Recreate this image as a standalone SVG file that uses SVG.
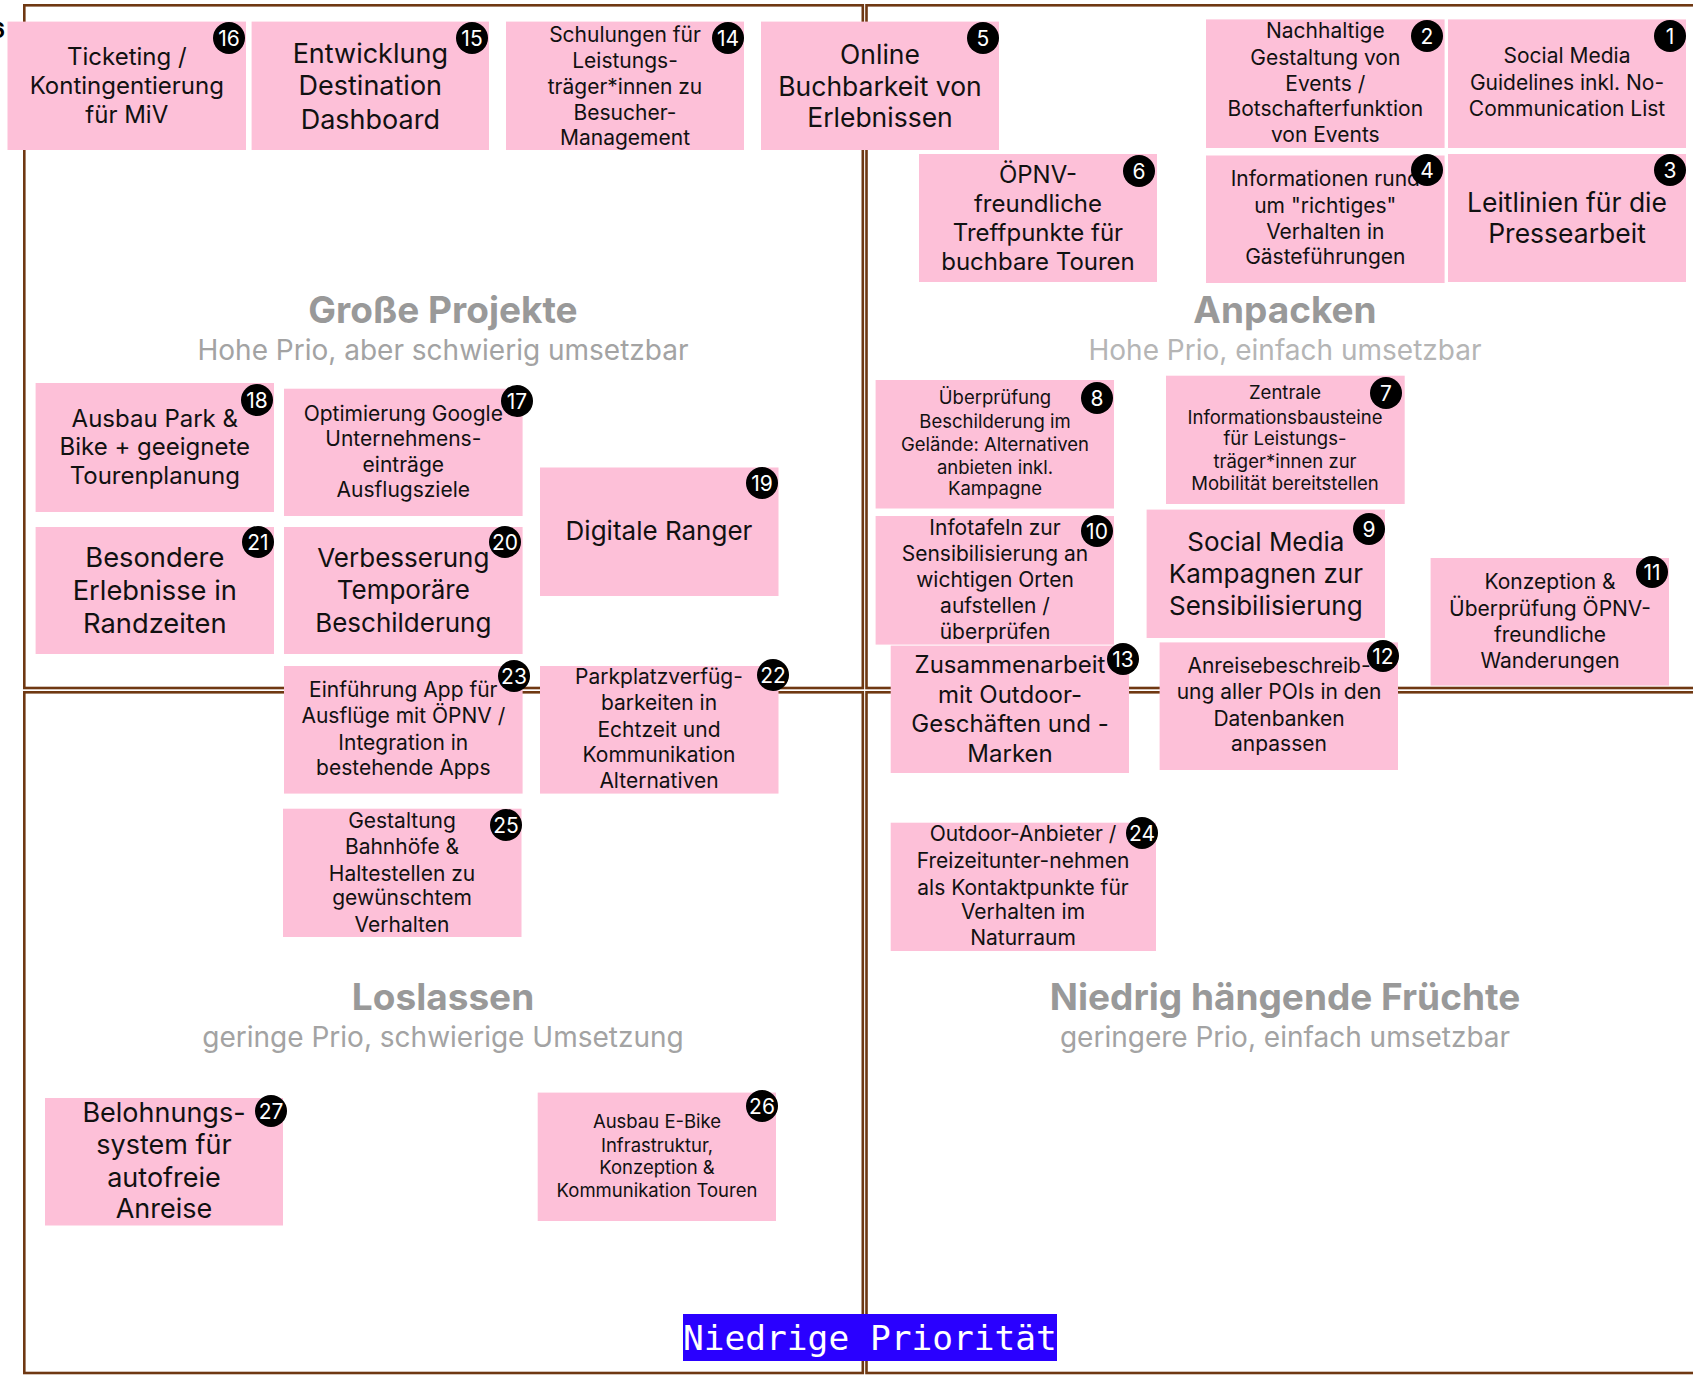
<svg xmlns="http://www.w3.org/2000/svg" width="1693" height="1375" viewBox="0 0 1693 1375">
<style>
.frame{fill:none;stroke:#6f3812;stroke-width:2.6}
.box{fill:#fdc0d8}
.t{font-family:Inter,"Noto Sans","Liberation Sans",sans-serif;fill:#111;text-anchor:middle}
.bd{fill:#000}
.bn{font-family:Inter,"Noto Sans","Liberation Sans",sans-serif;fill:#fff;font-size:21px;text-anchor:middle}
.qt{font-family:Inter,"Noto Sans","Liberation Sans",sans-serif;font-weight:700;font-size:37px;fill:#999;text-anchor:middle}
.qs{font-family:Inter,"Noto Sans","Liberation Sans",sans-serif;font-size:28px;fill:#a3a3a3;text-anchor:middle}
.s18{font-size:18.5px}.s21{font-size:21px}.s24{font-size:24px}.s26{font-size:26px}.s27{font-size:27px}.s28{font-size:27.3px}
</style>
<rect width="1693" height="1375" fill="#fff"/>
<g id="frame">
<rect class="frame" x="24.3" y="5.3" width="838.5" height="682.7"/>
<rect class="frame" x="866.5" y="5.3" width="900" height="682.7"/>
<rect class="frame" x="24.3" y="692.3" width="838.5" height="680.7"/>
<rect class="frame" x="866.5" y="692.3" width="900" height="680.7"/>
</g>
<text x="5" y="38" font-family="Inter,sans-serif" font-weight="700" font-size="22" fill="#000" text-anchor="end">6</text>
<g id="quadrant-labels">
<text class="qt" x="443" y="323">Große Projekte</text>
<text class="qs" x="443" y="360">Hohe Prio, aber schwierig umsetzbar</text>
<text class="qt" x="1285" y="323">Anpacken</text>
<text class="qs" x="1285" y="360" style="fill:#b5b5b5">Hohe Prio, einfach umsetzbar</text>
<text class="qt" x="443" y="1010">Loslassen</text>
<text class="qs" x="443" y="1047">geringe Prio, schwierige Umsetzung</text>
<text class="qt" x="1285" y="1010">Niedrig hängende Früchte</text>
<text class="qs" x="1285" y="1047">geringere Prio, einfach umsetzbar</text>
</g>
<g id="connectors"></g>
<g id="n16"><rect class="box" x="7.5" y="21.6" width="238.5" height="128.4"/><text class="t s24"><tspan x="126.8" y="64.5">Ticketing /</tspan><tspan x="126.8" y="93.5">Kontingentierung</tspan><tspan x="126.8" y="123">für MiV</tspan></text><circle class="bd" cx="229" cy="38" r="16"/><text class="bn" x="229" y="45.5">16</text></g>
<g id="n15"><rect class="box" x="251.6" y="21.6" width="237.4" height="128.4"/><text class="t s27"><tspan x="370.3" y="63">Entwicklung</tspan><tspan x="370.3" y="95">Destination</tspan><tspan x="370.3" y="129">Dashboard</tspan></text><circle class="bd" cx="472" cy="38" r="16"/><text class="bn" x="472" y="45.5">15</text></g>
<g id="n14"><rect class="box" x="506" y="21.6" width="238" height="128.4"/><text class="t s21"><tspan x="625" y="41.5">Schulungen für</tspan><tspan x="625" y="68">Leistungs-</tspan><tspan x="625" y="94">träger*innen zu</tspan><tspan x="625" y="119.5">Besucher-</tspan><tspan x="625" y="145">Management</tspan></text><circle class="bd" cx="728" cy="38" r="16"/><text class="bn" x="728" y="45.5">14</text></g>
<g id="n5"><rect class="box" x="761" y="21.6" width="238" height="128.4"/><text class="t" style="font-size:26.5px"><tspan x="880" y="63.5">Online</tspan><tspan x="880" y="95.5">Buchbarkeit von</tspan><tspan x="880" y="127">Erlebnissen</tspan></text><circle class="bd" cx="983" cy="38" r="16"/><text class="bn" x="983" y="45.5">5</text></g>
<g id="n2"><rect class="box" x="1206" y="19.4" width="238.6" height="128.6"/><text class="t s21"><tspan x="1325.3" y="38">Nachhaltige</tspan><tspan x="1325.3" y="65">Gestaltung von</tspan><tspan x="1325.3" y="91">Events /</tspan><tspan x="1325.3" y="116">Botschafterfunktion</tspan><tspan x="1325.3" y="142">von Events</tspan></text><circle class="bd" cx="1427" cy="36" r="16"/><text class="bn" x="1427" y="43.5">2</text></g>
<g id="n1"><rect class="box" x="1448" y="19.4" width="238" height="128.6"/><text class="t s21"><tspan x="1567" y="63">Social Media</tspan><tspan x="1567" y="90">Guidelines inkl. No-</tspan><tspan x="1567" y="116">Communication List</tspan></text><circle class="bd" cx="1670" cy="36" r="16"/><text class="bn" x="1670" y="43.5">1</text></g>
<g id="n6"><rect class="box" x="919" y="154" width="238" height="128"/><text class="t s24"><tspan x="1038" y="182.5">ÖPNV-</tspan><tspan x="1038" y="211.5">freundliche</tspan><tspan x="1038" y="240.5">Treffpunkte für</tspan><tspan x="1038" y="269.5">buchbare Touren</tspan></text><circle class="bd" cx="1139" cy="171" r="16"/><text class="bn" x="1139" y="178.5">6</text></g>
<g id="n4"><rect class="box" x="1206" y="155.5" width="238.6" height="127.5"/><text class="t s21"><tspan x="1325.3" y="186">Informationen rund</tspan><tspan x="1325.3" y="213">um "richtiges"</tspan><tspan x="1325.3" y="239">Verhalten in</tspan><tspan x="1325.3" y="264">Gästeführungen</tspan></text><circle class="bd" cx="1427" cy="170" r="16"/><text class="bn" x="1427" y="177.5">4</text></g>
<g id="n3"><rect class="box" x="1448" y="154" width="238" height="128"/><text class="t" style="font-size:26.5px"><tspan x="1567" y="211.5">Leitlinien für die</tspan><tspan x="1567" y="242.5">Pressearbeit</tspan></text><circle class="bd" cx="1670" cy="170" r="16"/><text class="bn" x="1670" y="177.5">3</text></g>
<g id="n18"><rect class="box" x="35.6" y="383" width="238.4" height="129"/><text class="t s24"><tspan x="154.8" y="427">Ausbau Park &amp;</tspan><tspan x="154.8" y="455">Bike + geeignete</tspan><tspan x="154.8" y="484">Tourenplanung</tspan></text><circle class="bd" cx="257" cy="400" r="16"/><text class="bn" x="257" y="407.5">18</text></g>
<g id="n17"><rect class="box" x="284" y="388.7" width="238.6" height="127.3"/><text class="t s21"><tspan x="403.3" y="420.5">Optimierung Google</tspan><tspan x="403.3" y="446">Unternehmens-</tspan><tspan x="403.3" y="472">einträge</tspan><tspan x="403.3" y="497">Ausflugsziele</tspan></text><circle class="bd" cx="517" cy="401" r="16"/><text class="bn" x="517" y="408.5">17</text></g>
<g id="n19"><rect class="box" x="540" y="467.5" width="238.5" height="128.5"/><text class="t s26"><tspan x="659" y="540">Digitale Ranger</tspan></text><circle class="bd" cx="762" cy="483" r="16"/><text class="bn" x="762" y="490.5">19</text></g>
<g id="n21"><rect class="box" x="35.6" y="527" width="238.4" height="127"/><text class="t s28"><tspan x="154.8" y="567">Besondere</tspan><tspan x="154.8" y="599.5">Erlebnisse in</tspan><tspan x="154.8" y="633">Randzeiten</tspan></text><circle class="bd" cx="258" cy="542" r="16"/><text class="bn" x="258" y="549.5">21</text></g>
<g id="n20"><rect class="box" x="284" y="527" width="238.6" height="127"/><text class="t s26"><tspan x="403.3" y="566.5">Verbesserung</tspan><tspan x="403.3" y="599">Temporäre</tspan><tspan x="403.3" y="631.5">Beschilderung</tspan></text><circle class="bd" cx="505" cy="542" r="16"/><text class="bn" x="505" y="549.5">20</text></g>
<g id="n23"><rect class="box" x="284" y="666" width="238.6" height="127.6"/><text class="t s21"><tspan x="403.3" y="697">Einführung App für</tspan><tspan x="403.3" y="723">Ausflüge mit ÖPNV /</tspan><tspan x="403.3" y="750">Integration in</tspan><tspan x="403.3" y="775">bestehende Apps</tspan></text><circle class="bd" cx="514" cy="676" r="16"/><text class="bn" x="514" y="683.5">23</text></g>
<g id="n22"><rect class="box" x="540" y="666" width="238.5" height="127.6"/><text class="t s21"><tspan x="659" y="684">Parkplatzverfüg-</tspan><tspan x="659" y="710">barkeiten in</tspan><tspan x="659" y="737">Echtzeit und</tspan><tspan x="659" y="762">Kommunikation</tspan><tspan x="659" y="788">Alternativen</tspan></text><circle class="bd" cx="773" cy="675" r="16"/><text class="bn" x="773" y="682.5">22</text></g>
<g id="n25"><rect class="box" x="283" y="808.7" width="238.5" height="128.3"/><text class="t s21"><tspan x="402" y="827.6">Gestaltung</tspan><tspan x="402" y="853.5">Bahnhöfe &amp;</tspan><tspan x="402" y="880.5">Haltestellen zu</tspan><tspan x="402" y="905">gewünschtem</tspan><tspan x="402" y="932">Verhalten</tspan></text><circle class="bd" cx="506" cy="825" r="16"/><text class="bn" x="506" y="832.5">25</text></g>
<g id="n8"><rect class="box" x="875.6" y="380" width="238.4" height="128.5"/><text class="t s18"><tspan x="995" y="404">Überprüfung</tspan><tspan x="995" y="428">Beschilderung im</tspan><tspan x="995" y="451">Gelände: Alternativen</tspan><tspan x="995" y="473.5">anbieten inkl.</tspan><tspan x="995" y="495">Kampagne</tspan></text><circle class="bd" cx="1097" cy="398" r="16"/><text class="bn" x="1097" y="405.5">8</text></g>
<g id="n7"><rect class="box" x="1166" y="375.7" width="238.7" height="128.3"/><text class="t s18"><tspan x="1285" y="399">Zentrale</tspan><tspan x="1285" y="424">Informationsbausteine</tspan><tspan x="1285" y="445">für Leistungs-</tspan><tspan x="1285" y="468">träger*innen zur</tspan><tspan x="1285" y="490">Mobilität bereitstellen</tspan></text><circle class="bd" cx="1386" cy="393" r="16"/><text class="bn" x="1386" y="400.5">7</text></g>
<g id="n10"><rect class="box" x="875.6" y="516" width="238.4" height="128.6"/><text class="t s21"><tspan x="995" y="535">Infotafeln zur</tspan><tspan x="995" y="561">Sensibilisierung an</tspan><tspan x="995" y="587">wichtigen Orten</tspan><tspan x="995" y="612.7">aufstellen /</tspan><tspan x="995" y="638.6">überprüfen</tspan></text><circle class="bd" cx="1097" cy="531" r="16"/><text class="bn" x="1097" y="538.5">10</text></g>
<g id="n9"><rect class="box" x="1146.6" y="509.6" width="238.4" height="128.4"/><text class="t s26"><tspan x="1265.8" y="550.5">Social Media</tspan><tspan x="1265.8" y="582.5">Kampagnen zur</tspan><tspan x="1265.8" y="615">Sensibilisierung</tspan></text><circle class="bd" cx="1369" cy="529" r="16"/><text class="bn" x="1369" y="536.5">9</text></g>
<g id="n11"><rect class="box" x="1430.6" y="558" width="238.4" height="127.6"/><text class="t s21"><tspan x="1550" y="589">Konzeption &amp;</tspan><tspan x="1550" y="616">Überprüfung ÖPNV-</tspan><tspan x="1550" y="642">freundliche</tspan><tspan x="1550" y="668">Wanderungen</tspan></text><circle class="bd" cx="1652" cy="572" r="16"/><text class="bn" x="1652" y="579.5">11</text></g>
<g id="n13"><rect class="box" x="890.7" y="645.6" width="238.3" height="127.4"/><text class="t s24"><tspan x="1010" y="672.5">Zusammenarbeit</tspan><tspan x="1010" y="702.5">mit Outdoor-</tspan><tspan x="1010" y="731.5">Geschäften und -</tspan><tspan x="1010" y="762">Marken</tspan></text><circle class="bd" cx="1123" cy="659" r="16"/><text class="bn" x="1123" y="666.5">13</text></g>
<g id="n12"><rect class="box" x="1159.6" y="642.4" width="238.4" height="127.6"/><text class="t s21"><tspan x="1279" y="673">Anreisebeschreib-</tspan><tspan x="1279" y="699">ung aller POIs in den</tspan><tspan x="1279" y="726">Datenbanken</tspan><tspan x="1279" y="751">anpassen</tspan></text><circle class="bd" cx="1383" cy="656" r="16"/><text class="bn" x="1383" y="663.5">12</text></g>
<g id="n24"><rect class="box" x="890.7" y="822.7" width="265.3" height="128.3"/><text class="t s21"><tspan x="1023" y="840.5">Outdoor-Anbieter /</tspan><tspan x="1023" y="867.5">Freizeitunter-nehmen</tspan><tspan x="1023" y="894.5">als Kontaktpunkte für</tspan><tspan x="1023" y="919">Verhalten im</tspan><tspan x="1023" y="945">Naturraum</tspan></text><circle class="bd" cx="1142" cy="833" r="16"/><text class="bn" x="1142" y="840.5">24</text></g>
<g id="n27"><rect class="box" x="45" y="1098" width="238" height="127.5"/><text class="t s27"><tspan x="164" y="1121.5">Belohnungs-</tspan><tspan x="164" y="1154">system für</tspan><tspan x="164" y="1186.5">autofreie</tspan><tspan x="164" y="1217.5">Anreise</tspan></text><circle class="bd" cx="271" cy="1111" r="16"/><text class="bn" x="271" y="1118.5">27</text></g>
<g id="n26"><rect class="box" x="537.7" y="1092.6" width="238.3" height="128.4"/><text class="t s18"><tspan x="657" y="1128">Ausbau E-Bike</tspan><tspan x="657" y="1151.5">Infrastruktur,</tspan><tspan x="657" y="1174">Konzeption &amp;</tspan><tspan x="657" y="1197">Kommunikation Touren</tspan></text><circle class="bd" cx="762" cy="1106" r="16"/><text class="bn" x="762" y="1113.5">26</text></g>
<g id="axis-label"><rect x="683" y="1314" width="374" height="47" fill="#2a00ff"/><text x="683" y="1350" font-family="'DejaVu Sans Mono','Liberation Mono',monospace" font-size="34.5" fill="#fff">Niedrige Priorität</text></g>
</svg>
